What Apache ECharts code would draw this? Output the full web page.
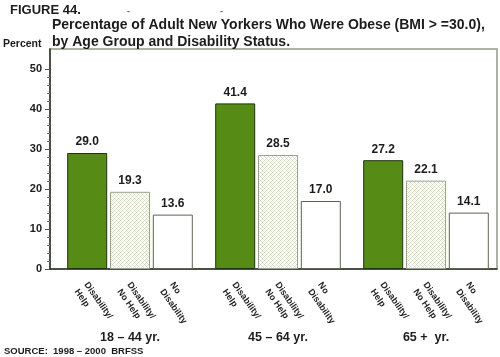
<!DOCTYPE html>
<html><head><meta charset="utf-8">
<script src="https://cdn.jsdelivr.net/npm/echarts@6/dist/echarts.min.js"></script>
<style>html,body{margin:0;padding:0;background:#fff}#c{width:500px;height:357px}</style>
</head><body><div id="c"></div>
<script>
const ageGroups = ['18 – 44 yr.', '45 – 64 yr.', '65 +  yr.'];
const statusNames = ['Disability/\nHelp', 'Disability/\nNo Help', 'No\nDisability'];
const disabilityHelp = [29.0, 41.4, 27.2];
const disabilityNoHelp = [19.3, 28.5, 22.1];
const noDisability = [13.6, 17.0, 14.1];
const yTicks = [0, 10, 20, 30, 40, 50];
const yMinorTicks = [2,4,6,8,12,14,16,18,22,24,26,28,32,34,36,38,42,44,46,48];

const FONT = '"Liberation Sans", Arial, sans-serif';
const INK = '#1c1c1c';

// cross-hatch fill tile
const tile = document.createElement('canvas');
tile.width = 4; tile.height = 4;
const tc = tile.getContext('2d');
tc.fillStyle = '#ffffff'; tc.fillRect(0, 0, 4, 4);
tc.fillStyle = '#c6d6b8';
tc.fillRect(0, 0, 1, 1); tc.fillRect(2, 2, 1, 1);
tc.fillStyle = '#e0e9d6';
tc.fillRect(1, 1, 1, 1); tc.fillRect(3, 3, 1, 1); tc.fillRect(3, 1, 1, 1); tc.fillRect(1, 3, 1, 1);

const seriesData = [disabilityHelp, disabilityNoHelp, noDisability];
const styles = [
  { color: '#568b16', borderColor: '#22300f', borderWidth: 1 },
  { color: { image: tile, repeat: 'repeat' }, borderColor: '#9aa390', borderWidth: 1 },
  { color: '#ffffff', borderColor: '#5c6452', borderWidth: 1 }
];

const series = [];
seriesData.forEach((d, i) => {
  series.push({
    type: 'bar', xAxisIndex: 1, yAxisIndex: 2, data: d, barWidth: 40, barGap: '7%',
    itemStyle: styles[i], silent: true,
    label: { show: true, position: 'top', distance: 5, formatter: p => p.value.toFixed(1),
      fontFamily: FONT, fontWeight: 'bold', fontSize: 12, color: INK }
  });
});
seriesData.forEach((d, i) => {
  series.push({
    type: 'bar', xAxisIndex: 2, yAxisIndex: 2, data: d, barWidth: 40, barGap: '7%',
    itemStyle: { color: 'rgba(0,0,0,0)' }, silent: true,
    label: { show: true, position: ['50%', '100%'], offset: [11, 15], rotate: -55,
      align: 'left', verticalAlign: 'middle', formatter: () => statusNames[i],
      fontFamily: FONT, fontWeight: 'bold', fontSize: 9, lineHeight: 12, color: INK }
  });
});

const chart = echarts.init(document.getElementById('c'), null, { renderer: 'canvas' });
chart.setOption({
  animation: false,
  backgroundColor: '#ffffff',
  title: [
    { text: 'FIGURE 44.', left: 10, top: 4, padding: 0, textStyle: { fontFamily: FONT, fontWeight: 'bold', fontSize: 13, color: INK } },
    { text: '-', left: 127, top: 7, padding: 0, textStyle: { fontFamily: FONT, fontSize: 9, color: '#666' } },
    { text: '-', left: 220, top: 7, padding: 0, textStyle: { fontFamily: FONT, fontSize: 9, color: '#666' } },
    { text: 'Percentage of Adult New Yorkers Who Were Obese (BMI > =30.0),\nby Age Group and Disability Status.',
      left: 52, top: 17, padding: 0, textStyle: { fontFamily: FONT, fontWeight: 'bold', fontSize: 14, lineHeight: 17, color: INK } },
    { text: 'Percent', left: 3, top: 39, padding: 0, textStyle: { fontFamily: FONT, fontWeight: 'bold', fontSize: 10.5, color: INK } },
    { text: 'SOURCE:  1998 – 2000  BRFSS', left: 4, top: 346, padding: 0, textStyle: { fontFamily: FONT, fontWeight: 'bold', fontSize: 9.5, color: INK } }
  ],
  grid: [
    { left: 50, right: 3, top: 49, bottom: 88, show: true, borderColor: '#8e9a86', borderWidth: 1.5, backgroundColor: 'transparent' },
    { left: 56, right: 0, top: 49, bottom: 88 }
  ],
  xAxis: [
    { gridIndex: 0, type: 'category', data: ['a'], axisLine: { show: true, lineStyle: { color: '#2a2f25', width: 1.5 } },
      axisTick: { show: false }, axisLabel: { show: false }, splitLine: { show: false } },
    { gridIndex: 1, type: 'category', data: ageGroups, axisLine: { show: false }, axisTick: { show: false },
      axisLabel: { margin: 62, fontFamily: FONT, fontWeight: 'bold', fontSize: 12.5, color: INK } },
    { gridIndex: 1, type: 'category', data: ageGroups, show: false }
  ],
  yAxis: [
    { gridIndex: 0, type: 'value', min: 0, max: 55, position: 'left',
      axisLine: { show: true, lineStyle: { color: '#2a2f25', width: 1.5 } },
      axisTick: { show: true, customValues: yTicks, length: 5, lineStyle: { color: '#555' } },
      axisLabel: { customValues: yTicks, margin: 8, fontFamily: FONT, fontWeight: 'bold', fontSize: 11, color: INK },
      splitLine: { show: false } },
    { gridIndex: 0, type: 'value', min: 0, max: 55, position: 'left',
      axisLine: { show: false },
      axisTick: { show: true, customValues: yMinorTicks, length: 3, lineStyle: { color: '#777' } },
      axisLabel: { show: false }, splitLine: { show: false } },
    { gridIndex: 1, type: 'value', min: 0, max: 55, show: false, splitLine: { show: false } }
  ],
  series: series
});
</script>
</body></html>
